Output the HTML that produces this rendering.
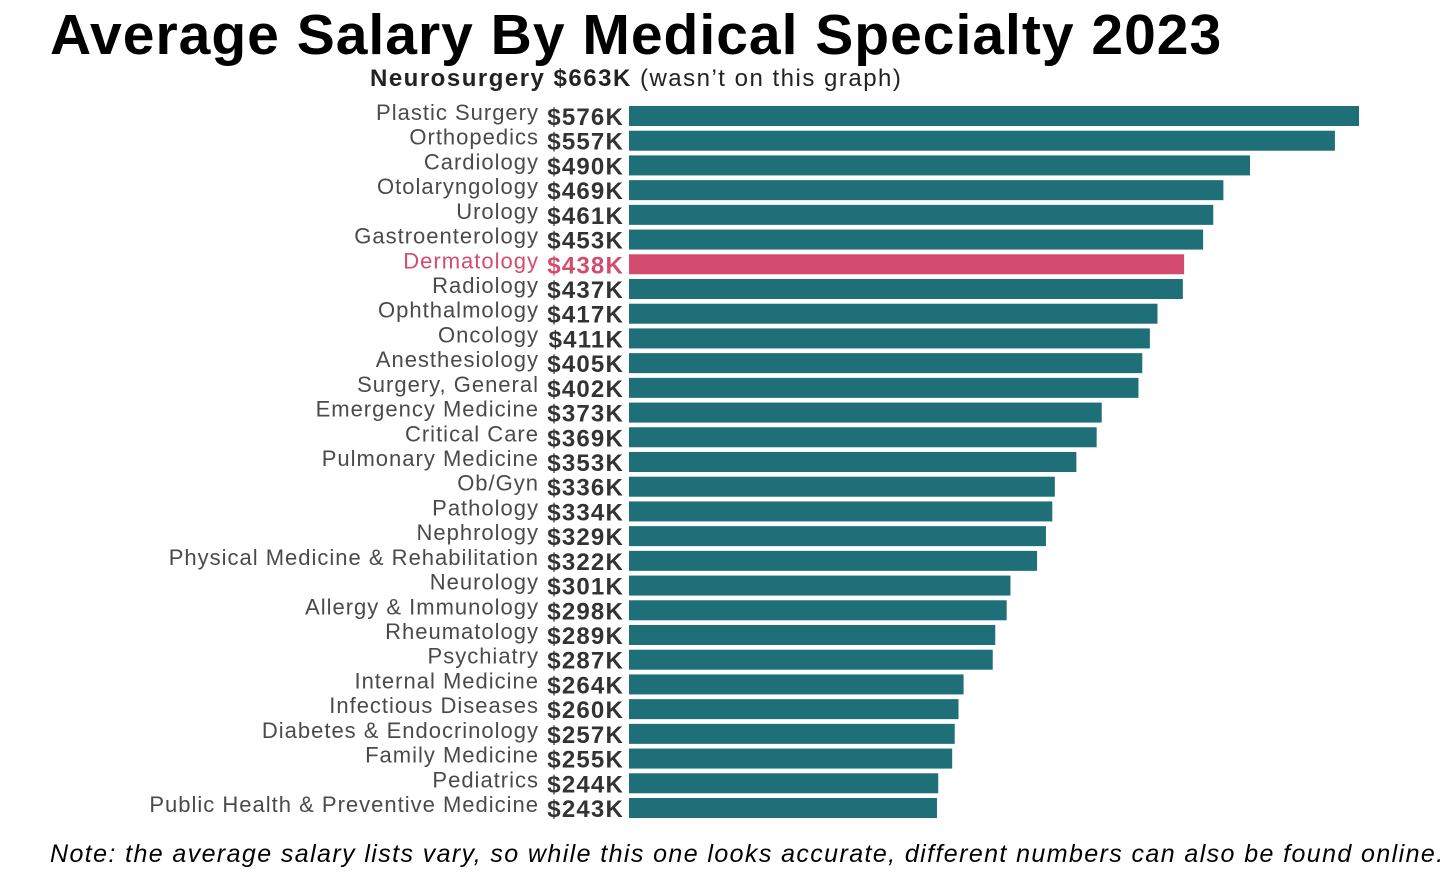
<!DOCTYPE html>
<html><head><meta charset="utf-8"><style>
body{margin:0;background:#fff;width:1456px;height:885px;overflow:hidden;font-family:"Liberation Sans",sans-serif;position:relative}
#title{position:absolute;left:50px;top:2px;font-size:57px;font-weight:bold;color:#000;letter-spacing:1px;white-space:nowrap}
#sub{position:absolute;left:370px;top:65px;font-size:24px;color:#222;letter-spacing:1.5px;white-space:nowrap}
#note{position:absolute;left:50px;top:840px;font-size:25px;font-style:italic;color:#000;letter-spacing:1.4px;white-space:nowrap}
svg{position:absolute;left:0;top:0}
</style></head><body>
<div id="title">Average Salary By Medical Specialty 2023</div>
<div id="sub"><b>Neurosurgery $663K</b> (wasn’t on this graph)</div>
<svg id="chart" width="1456" height="885"></svg>
<div id="note">Note: the average salary lists vary, so while this one looks accurate, different numbers can also be found online.</div>
<script>
const categories=["Plastic Surgery","Orthopedics","Cardiology","Otolaryngology","Urology","Gastroenterology","Dermatology","Radiology","Ophthalmology","Oncology","Anesthesiology","Surgery, General","Emergency Medicine","Critical Care","Pulmonary Medicine","Ob/Gyn","Pathology","Nephrology","Physical Medicine & Rehabilitation","Neurology","Allergy & Immunology","Rheumatology","Psychiatry","Internal Medicine","Infectious Diseases","Diabetes & Endocrinology","Family Medicine","Pediatrics","Public Health & Preventive Medicine"];
const salaries=[576,557,490,469,461,453,438,437,417,411,405,402,373,369,353,336,334,329,322,301,298,289,287,264,260,257,255,244,243];
const highlight="Dermatology";
const svg=document.getElementById('chart');
const NS="http://www.w3.org/2000/svg";
const x0=629, kx=730/576, y0=116, dy=(808-116)/28;
function xs(v){return x0+v*kx;}
function yc(i){return y0+i*dy;}
categories.forEach((c,i)=>{
  const hl=c===highlight;
  const r=document.createElementNS(NS,'rect');
  r.setAttribute('x',x0);r.setAttribute('y',yc(i)-10);
  r.setAttribute('width',xs(salaries[i])-x0);r.setAttribute('height',20);
  r.setAttribute('fill',hl?'#d34b6e':'#1f6f78');
  
  
  svg.appendChild(r);
  const t=document.createElementNS(NS,'text');
  t.setAttribute('x',539);t.setAttribute('y',yc(i)+4);
  t.setAttribute('text-anchor','end');t.setAttribute('font-size','22');
  t.setAttribute('letter-spacing','1');
  t.setAttribute('fill',hl?'#d34b6e':'#4a4a4a');
  t.setAttribute('font-family','Liberation Sans, sans-serif');
  t.textContent=c;
  
  
  svg.appendChild(t);
  const v=document.createElementNS(NS,'text');
  v.setAttribute('x',624);v.setAttribute('y',yc(i)+9);
  v.setAttribute('text-anchor','end');v.setAttribute('font-size','24');v.setAttribute('font-weight','bold');
  v.setAttribute('letter-spacing','1.2');
  v.setAttribute('fill',hl?'#d34b6e':'#333');
  v.setAttribute('font-family','Liberation Sans, sans-serif');
  v.textContent='$'+salaries[i]+'K';
  
  
  svg.appendChild(v);
});
</script>
</body></html>
